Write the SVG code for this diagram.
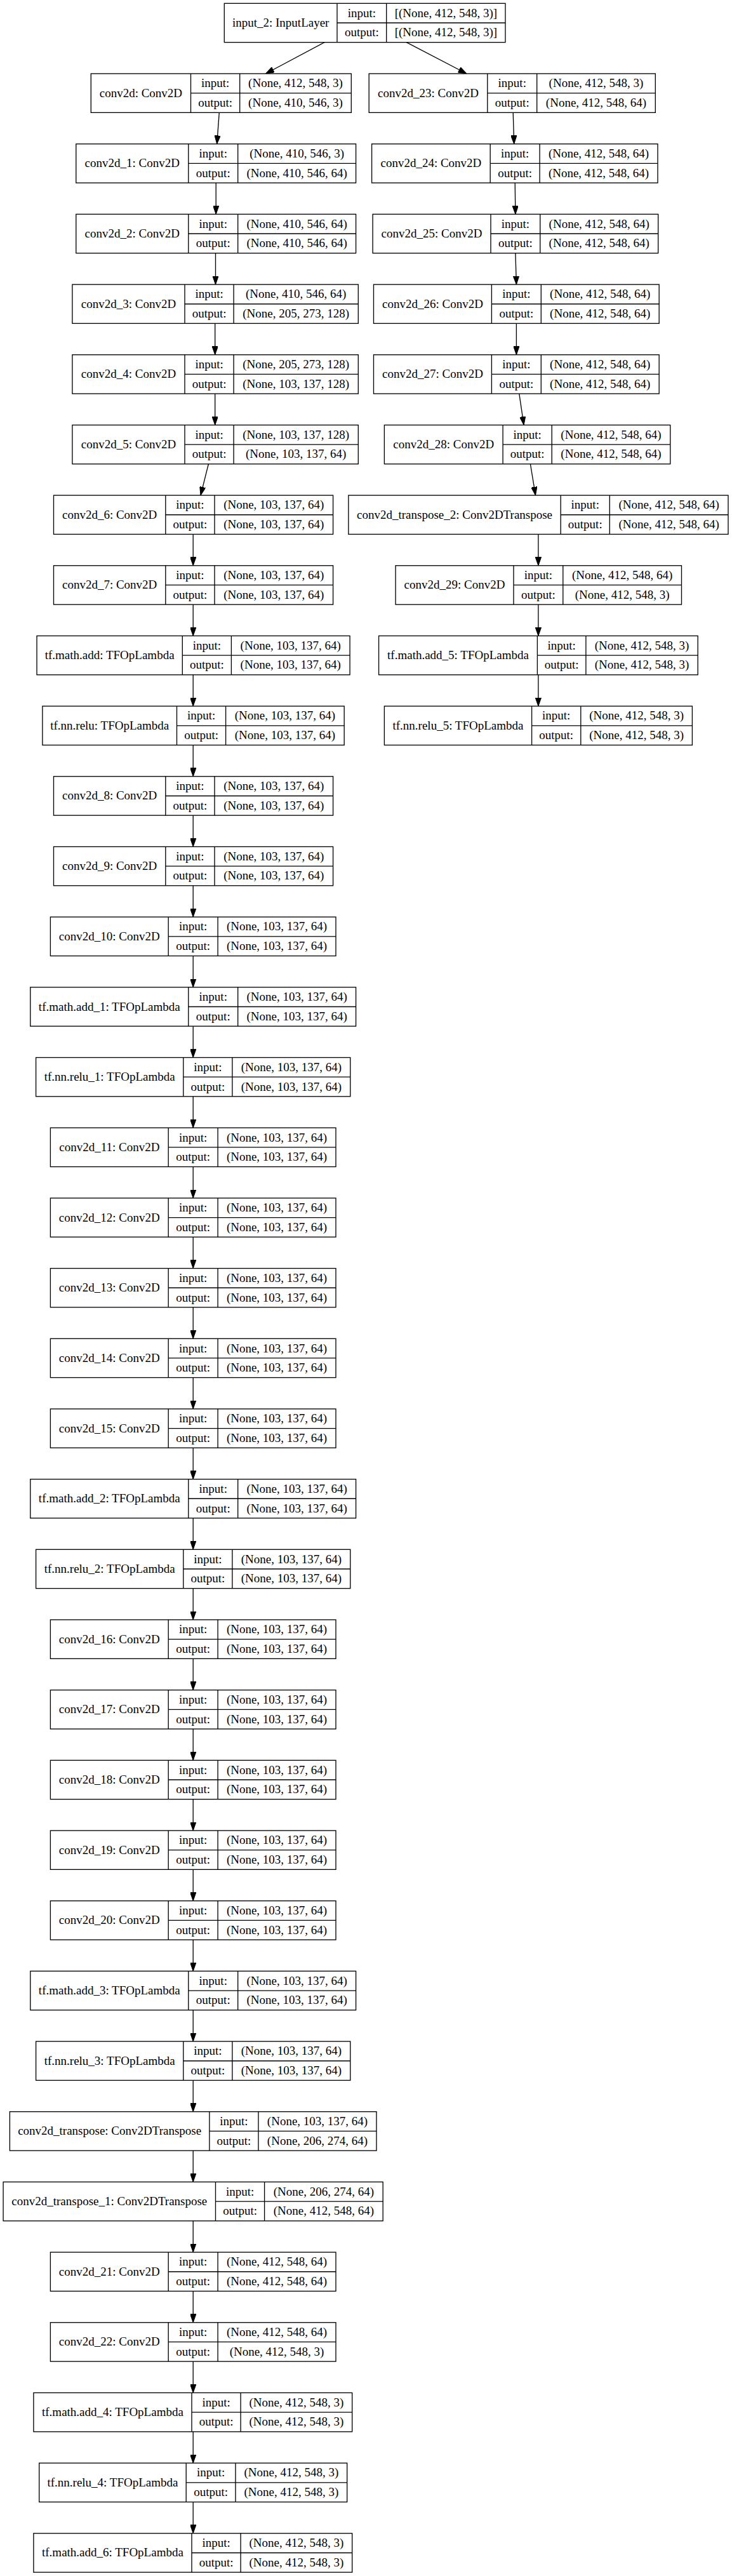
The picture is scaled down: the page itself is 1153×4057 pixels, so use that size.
<svg xmlns="http://www.w3.org/2000/svg" width="1153" height="4057" viewBox="0 0 1153 4057">
<style>
.b{fill:#fff;stroke:#000;stroke-width:1.33}
.l{stroke:#000;stroke-width:1.33;fill:none}
text{font-family:"Liberation Serif","Times New Roman",serif;font-size:19px;fill:#000;text-anchor:middle}
.e{stroke:#000;stroke-width:1.33;fill:none;marker-end:url(#ah)}
</style>
<defs>
<marker id="ah" viewBox="0 0 13.33 9.33" refX="13.33" refY="4.67" markerWidth="13.33" markerHeight="9.33" markerUnits="userSpaceOnUse" orient="auto"><path d="M0,0 L13.33,4.67 L0,9.33 Z" fill="#000" stroke="#000" stroke-width="1"/></marker>
</defs>
<rect width="1153" height="4057" fill="#fff"/>
<g id="edges">
<path class="e" d="M511.2,66.66 L418.5,116.01"/>
<path class="e" d="M640.2,66.66 L735,116.01"/>
<path class="e" d="M345.3,177.34 L341.7,226.69"/>
<path class="e" d="M808.2,177.34 L809.7,226.69"/>
<path class="e" d="M340.2,288.02 L340.2,337.37"/>
<path class="e" d="M811.2,288.02 L811.9,337.37"/>
<path class="e" d="M339.5,398.7 L339.5,448.05"/>
<path class="e" d="M811.9,398.7 L813.4,448.05"/>
<path class="e" d="M338.7,509.38 L338.7,558.73"/>
<path class="e" d="M813.4,509.38 L813.4,558.73"/>
<path class="e" d="M338.7,620.06 L338.7,669.41"/>
<path class="e" d="M817.8,620.06 L825.1,669.41"/>
<path class="e" d="M328.4,730.74 L316,780.09"/>
<path class="e" d="M835.4,730.74 L843.5,780.09"/>
<path class="e" d="M304.2,841.42 L304.2,890.77"/>
<path class="e" d="M847.9,841.42 L847.9,890.77"/>
<path class="e" d="M304.2,952.1 L304.2,1001.45"/>
<path class="e" d="M847.9,952.1 L847.9,1001.45"/>
<path class="e" d="M847.9,1062.78 L847.9,1112.13"/>
<path class="e" d="M304.2,1062.78 L304.2,1112.13"/>
<path class="e" d="M304.2,1173.46 L304.2,1222.81"/>
<path class="e" d="M304.2,1284.14 L304.2,1333.49"/>
<path class="e" d="M304.2,1394.82 L304.2,1444.17"/>
<path class="e" d="M304.2,1505.5 L304.2,1554.85"/>
<path class="e" d="M304.2,1616.18 L304.2,1665.53"/>
<path class="e" d="M304.2,1726.86 L304.2,1776.21"/>
<path class="e" d="M304.2,1837.54 L304.2,1886.89"/>
<path class="e" d="M304.2,1948.22 L304.2,1997.57"/>
<path class="e" d="M304.2,2058.9 L304.2,2108.25"/>
<path class="e" d="M304.2,2169.58 L304.2,2218.93"/>
<path class="e" d="M304.2,2280.26 L304.2,2329.61"/>
<path class="e" d="M304.2,2390.94 L304.2,2440.29"/>
<path class="e" d="M304.2,2501.62 L304.2,2550.97"/>
<path class="e" d="M304.2,2612.3 L304.2,2661.65"/>
<path class="e" d="M304.2,2722.98 L304.2,2772.33"/>
<path class="e" d="M304.2,2833.66 L304.2,2883.01"/>
<path class="e" d="M304.2,2944.34 L304.2,2993.69"/>
<path class="e" d="M304.2,3055.02 L304.2,3104.37"/>
<path class="e" d="M304.2,3165.7 L304.2,3215.05"/>
<path class="e" d="M304.2,3276.38 L304.2,3325.73"/>
<path class="e" d="M304.2,3387.06 L304.2,3436.41"/>
<path class="e" d="M304.2,3497.74 L304.2,3547.09"/>
<path class="e" d="M304.2,3608.42 L304.2,3657.77"/>
<path class="e" d="M304.2,3719.1 L304.2,3768.45"/>
<path class="e" d="M304.2,3829.78 L304.2,3879.13"/>
<path class="e" d="M304.2,3940.46 L304.2,3989.81"/>
</g>
<g id="input_2" transform="translate(0,5.33)"><rect class="b" x="353.3" y="0" width="442.7" height="61.33"/><path class="l" d="M531,0V61.33M608.7,0V61.33M531,30.67H796"/><text x="442.2" y="36.67">input_2: InputLayer</text><text x="569.9" y="21.33">input:</text><text x="702.4" y="21.33">[(None, 412, 548, 3)]</text><text x="569.9" y="52">output:</text><text x="702.4" y="52">[(None, 412, 548, 3)]</text></g>
<g id="conv2d" transform="translate(0,116.01)"><rect class="b" x="143.3" y="0" width="410" height="61.33"/><path class="l" d="M300.5,0V61.33M377.7,0V61.33M300.5,30.67H553.3"/><text x="221.9" y="36.67">conv2d: Conv2D</text><text x="339.1" y="21.33">input:</text><text x="465.5" y="21.33">(None, 412, 548, 3)</text><text x="339.1" y="52">output:</text><text x="465.5" y="52">(None, 410, 546, 3)</text></g>
<g id="conv2d_1" transform="translate(0,226.69)"><rect class="b" x="119.8" y="0" width="440.8" height="61.33"/><path class="l" d="M296.8,0V61.33M374.7,0V61.33M296.8,30.67H560.6"/><text x="208.3" y="36.67">conv2d_1: Conv2D</text><text x="335.75" y="21.33">input:</text><text x="467.65" y="21.33">(None, 410, 546, 3)</text><text x="335.75" y="52">output:</text><text x="467.65" y="52">(None, 410, 546, 64)</text></g>
<g id="conv2d_2" transform="translate(0,337.37)"><rect class="b" x="119.8" y="0" width="440.8" height="61.33"/><path class="l" d="M296.8,0V61.33M374.7,0V61.33M296.8,30.67H560.6"/><text x="208.3" y="36.67">conv2d_2: Conv2D</text><text x="335.75" y="21.33">input:</text><text x="467.65" y="21.33">(None, 410, 546, 64)</text><text x="335.75" y="52">output:</text><text x="467.65" y="52">(None, 410, 546, 64)</text></g>
<g id="conv2d_3" transform="translate(0,448.05)"><rect class="b" x="113.9" y="0" width="450.4" height="61.33"/><path class="l" d="M291,0V61.33M368.1,0V61.33M291,30.67H564.3"/><text x="202.45" y="36.67">conv2d_3: Conv2D</text><text x="329.55" y="21.33">input:</text><text x="466.2" y="21.33">(None, 410, 546, 64)</text><text x="329.55" y="52">output:</text><text x="466.2" y="52">(None, 205, 273, 128)</text></g>
<g id="conv2d_4" transform="translate(0,558.73)"><rect class="b" x="113.9" y="0" width="450.4" height="61.33"/><path class="l" d="M291,0V61.33M368.1,0V61.33M291,30.67H564.3"/><text x="202.45" y="36.67">conv2d_4: Conv2D</text><text x="329.55" y="21.33">input:</text><text x="466.2" y="21.33">(None, 205, 273, 128)</text><text x="329.55" y="52">output:</text><text x="466.2" y="52">(None, 103, 137, 128)</text></g>
<g id="conv2d_5" transform="translate(0,669.41)"><rect class="b" x="113.9" y="0" width="450.4" height="61.33"/><path class="l" d="M291,0V61.33M368.1,0V61.33M291,30.67H564.3"/><text x="202.45" y="36.67">conv2d_5: Conv2D</text><text x="329.55" y="21.33">input:</text><text x="466.2" y="21.33">(None, 103, 137, 128)</text><text x="329.55" y="52">output:</text><text x="466.2" y="52">(None, 103, 137, 64)</text></g>
<g id="conv2d_6" transform="translate(0,780.09)"><rect class="b" x="84.5" y="0" width="440.1" height="61.33"/><path class="l" d="M260.8,0V61.33M338,0V61.33M260.8,30.67H524.6"/><text x="172.65" y="36.67">conv2d_6: Conv2D</text><text x="299.4" y="21.33">input:</text><text x="431.3" y="21.33">(None, 103, 137, 64)</text><text x="299.4" y="52">output:</text><text x="431.3" y="52">(None, 103, 137, 64)</text></g>
<g id="conv2d_7" transform="translate(0,890.77)"><rect class="b" x="84.5" y="0" width="440.1" height="61.33"/><path class="l" d="M260.8,0V61.33M338,0V61.33M260.8,30.67H524.6"/><text x="172.65" y="36.67">conv2d_7: Conv2D</text><text x="299.4" y="21.33">input:</text><text x="431.3" y="21.33">(None, 103, 137, 64)</text><text x="299.4" y="52">output:</text><text x="431.3" y="52">(None, 103, 137, 64)</text></g>
<g id="tf.math.add" transform="translate(0,1001.45)"><rect class="b" x="58" y="0" width="493.1" height="61.33"/><path class="l" d="M287.3,0V61.33M364.4,0V61.33M287.3,30.67H551.1"/><text x="172.65" y="36.67">tf.math.add: TFOpLambda</text><text x="325.85" y="21.33">input:</text><text x="457.75" y="21.33">(None, 103, 137, 64)</text><text x="325.85" y="52">output:</text><text x="457.75" y="52">(None, 103, 137, 64)</text></g>
<g id="tf.nn.relu" transform="translate(0,1112.13)"><rect class="b" x="66.9" y="0" width="475.3" height="61.33"/><path class="l" d="M278.5,0V61.33M355.6,0V61.33M278.5,30.67H542.2"/><text x="172.7" y="36.67">tf.nn.relu: TFOpLambda</text><text x="317.05" y="21.33">input:</text><text x="448.9" y="21.33">(None, 103, 137, 64)</text><text x="317.05" y="52">output:</text><text x="448.9" y="52">(None, 103, 137, 64)</text></g>
<g id="conv2d_8" transform="translate(0,1222.81)"><rect class="b" x="84.5" y="0" width="440.1" height="61.33"/><path class="l" d="M260.8,0V61.33M338,0V61.33M260.8,30.67H524.6"/><text x="172.65" y="36.67">conv2d_8: Conv2D</text><text x="299.4" y="21.33">input:</text><text x="431.3" y="21.33">(None, 103, 137, 64)</text><text x="299.4" y="52">output:</text><text x="431.3" y="52">(None, 103, 137, 64)</text></g>
<g id="conv2d_9" transform="translate(0,1333.49)"><rect class="b" x="84.5" y="0" width="440.1" height="61.33"/><path class="l" d="M260.8,0V61.33M338,0V61.33M260.8,30.67H524.6"/><text x="172.65" y="36.67">conv2d_9: Conv2D</text><text x="299.4" y="21.33">input:</text><text x="431.3" y="21.33">(None, 103, 137, 64)</text><text x="299.4" y="52">output:</text><text x="431.3" y="52">(None, 103, 137, 64)</text></g>
<g id="conv2d_10" transform="translate(0,1444.17)"><rect class="b" x="79.4" y="0" width="449.6" height="61.33"/><path class="l" d="M265.2,0V61.33M343.1,0V61.33M265.2,30.67H529"/><text x="172.3" y="36.67">conv2d_10: Conv2D</text><text x="304.15" y="21.33">input:</text><text x="436.05" y="21.33">(None, 103, 137, 64)</text><text x="304.15" y="52">output:</text><text x="436.05" y="52">(None, 103, 137, 64)</text></g>
<g id="tf.math.add_1" transform="translate(0,1554.85)"><rect class="b" x="47.8" y="0" width="512.8" height="61.33"/><path class="l" d="M296.8,0V61.33M374.7,0V61.33M296.8,30.67H560.6"/><text x="172.3" y="36.67">tf.math.add_1: TFOpLambda</text><text x="335.75" y="21.33">input:</text><text x="467.65" y="21.33">(None, 103, 137, 64)</text><text x="335.75" y="52">output:</text><text x="467.65" y="52">(None, 103, 137, 64)</text></g>
<g id="tf.nn.relu_1" transform="translate(0,1665.53)"><rect class="b" x="56.6" y="0" width="495.2" height="61.33"/><path class="l" d="M288.8,0V61.33M365.9,0V61.33M288.8,30.67H551.8"/><text x="172.7" y="36.67">tf.nn.relu_1: TFOpLambda</text><text x="327.35" y="21.33">input:</text><text x="458.85" y="21.33">(None, 103, 137, 64)</text><text x="327.35" y="52">output:</text><text x="458.85" y="52">(None, 103, 137, 64)</text></g>
<g id="conv2d_11" transform="translate(0,1776.21)"><rect class="b" x="79.4" y="0" width="449.6" height="61.33"/><path class="l" d="M265.2,0V61.33M343.1,0V61.33M265.2,30.67H529"/><text x="172.3" y="36.67">conv2d_11: Conv2D</text><text x="304.15" y="21.33">input:</text><text x="436.05" y="21.33">(None, 103, 137, 64)</text><text x="304.15" y="52">output:</text><text x="436.05" y="52">(None, 103, 137, 64)</text></g>
<g id="conv2d_12" transform="translate(0,1886.89)"><rect class="b" x="79.4" y="0" width="449.6" height="61.33"/><path class="l" d="M265.2,0V61.33M343.1,0V61.33M265.2,30.67H529"/><text x="172.3" y="36.67">conv2d_12: Conv2D</text><text x="304.15" y="21.33">input:</text><text x="436.05" y="21.33">(None, 103, 137, 64)</text><text x="304.15" y="52">output:</text><text x="436.05" y="52">(None, 103, 137, 64)</text></g>
<g id="conv2d_13" transform="translate(0,1997.57)"><rect class="b" x="79.4" y="0" width="449.6" height="61.33"/><path class="l" d="M265.2,0V61.33M343.1,0V61.33M265.2,30.67H529"/><text x="172.3" y="36.67">conv2d_13: Conv2D</text><text x="304.15" y="21.33">input:</text><text x="436.05" y="21.33">(None, 103, 137, 64)</text><text x="304.15" y="52">output:</text><text x="436.05" y="52">(None, 103, 137, 64)</text></g>
<g id="conv2d_14" transform="translate(0,2108.25)"><rect class="b" x="79.4" y="0" width="449.6" height="61.33"/><path class="l" d="M265.2,0V61.33M343.1,0V61.33M265.2,30.67H529"/><text x="172.3" y="36.67">conv2d_14: Conv2D</text><text x="304.15" y="21.33">input:</text><text x="436.05" y="21.33">(None, 103, 137, 64)</text><text x="304.15" y="52">output:</text><text x="436.05" y="52">(None, 103, 137, 64)</text></g>
<g id="conv2d_15" transform="translate(0,2218.93)"><rect class="b" x="79.4" y="0" width="449.6" height="61.33"/><path class="l" d="M265.2,0V61.33M343.1,0V61.33M265.2,30.67H529"/><text x="172.3" y="36.67">conv2d_15: Conv2D</text><text x="304.15" y="21.33">input:</text><text x="436.05" y="21.33">(None, 103, 137, 64)</text><text x="304.15" y="52">output:</text><text x="436.05" y="52">(None, 103, 137, 64)</text></g>
<g id="tf.math.add_2" transform="translate(0,2329.61)"><rect class="b" x="47.8" y="0" width="512.8" height="61.33"/><path class="l" d="M296.8,0V61.33M374.7,0V61.33M296.8,30.67H560.6"/><text x="172.3" y="36.67">tf.math.add_2: TFOpLambda</text><text x="335.75" y="21.33">input:</text><text x="467.65" y="21.33">(None, 103, 137, 64)</text><text x="335.75" y="52">output:</text><text x="467.65" y="52">(None, 103, 137, 64)</text></g>
<g id="tf.nn.relu_2" transform="translate(0,2440.29)"><rect class="b" x="56.6" y="0" width="495.2" height="61.33"/><path class="l" d="M288.8,0V61.33M365.9,0V61.33M288.8,30.67H551.8"/><text x="172.7" y="36.67">tf.nn.relu_2: TFOpLambda</text><text x="327.35" y="21.33">input:</text><text x="458.85" y="21.33">(None, 103, 137, 64)</text><text x="327.35" y="52">output:</text><text x="458.85" y="52">(None, 103, 137, 64)</text></g>
<g id="conv2d_16" transform="translate(0,2550.97)"><rect class="b" x="79.4" y="0" width="449.6" height="61.33"/><path class="l" d="M265.2,0V61.33M343.1,0V61.33M265.2,30.67H529"/><text x="172.3" y="36.67">conv2d_16: Conv2D</text><text x="304.15" y="21.33">input:</text><text x="436.05" y="21.33">(None, 103, 137, 64)</text><text x="304.15" y="52">output:</text><text x="436.05" y="52">(None, 103, 137, 64)</text></g>
<g id="conv2d_17" transform="translate(0,2661.65)"><rect class="b" x="79.4" y="0" width="449.6" height="61.33"/><path class="l" d="M265.2,0V61.33M343.1,0V61.33M265.2,30.67H529"/><text x="172.3" y="36.67">conv2d_17: Conv2D</text><text x="304.15" y="21.33">input:</text><text x="436.05" y="21.33">(None, 103, 137, 64)</text><text x="304.15" y="52">output:</text><text x="436.05" y="52">(None, 103, 137, 64)</text></g>
<g id="conv2d_18" transform="translate(0,2772.33)"><rect class="b" x="79.4" y="0" width="449.6" height="61.33"/><path class="l" d="M265.2,0V61.33M343.1,0V61.33M265.2,30.67H529"/><text x="172.3" y="36.67">conv2d_18: Conv2D</text><text x="304.15" y="21.33">input:</text><text x="436.05" y="21.33">(None, 103, 137, 64)</text><text x="304.15" y="52">output:</text><text x="436.05" y="52">(None, 103, 137, 64)</text></g>
<g id="conv2d_19" transform="translate(0,2883.01)"><rect class="b" x="79.4" y="0" width="449.6" height="61.33"/><path class="l" d="M265.2,0V61.33M343.1,0V61.33M265.2,30.67H529"/><text x="172.3" y="36.67">conv2d_19: Conv2D</text><text x="304.15" y="21.33">input:</text><text x="436.05" y="21.33">(None, 103, 137, 64)</text><text x="304.15" y="52">output:</text><text x="436.05" y="52">(None, 103, 137, 64)</text></g>
<g id="conv2d_20" transform="translate(0,2993.69)"><rect class="b" x="79.4" y="0" width="449.6" height="61.33"/><path class="l" d="M265.2,0V61.33M343.1,0V61.33M265.2,30.67H529"/><text x="172.3" y="36.67">conv2d_20: Conv2D</text><text x="304.15" y="21.33">input:</text><text x="436.05" y="21.33">(None, 103, 137, 64)</text><text x="304.15" y="52">output:</text><text x="436.05" y="52">(None, 103, 137, 64)</text></g>
<g id="tf.math.add_3" transform="translate(0,3104.37)"><rect class="b" x="47.8" y="0" width="512.8" height="61.33"/><path class="l" d="M296.8,0V61.33M374.7,0V61.33M296.8,30.67H560.6"/><text x="172.3" y="36.67">tf.math.add_3: TFOpLambda</text><text x="335.75" y="21.33">input:</text><text x="467.65" y="21.33">(None, 103, 137, 64)</text><text x="335.75" y="52">output:</text><text x="467.65" y="52">(None, 103, 137, 64)</text></g>
<g id="tf.nn.relu_3" transform="translate(0,3215.05)"><rect class="b" x="56.6" y="0" width="495.2" height="61.33"/><path class="l" d="M288.8,0V61.33M365.9,0V61.33M288.8,30.67H551.8"/><text x="172.7" y="36.67">tf.nn.relu_3: TFOpLambda</text><text x="327.35" y="21.33">input:</text><text x="458.85" y="21.33">(None, 103, 137, 64)</text><text x="327.35" y="52">output:</text><text x="458.85" y="52">(None, 103, 137, 64)</text></g>
<g id="conv2d_transpose" transform="translate(0,3325.73)"><rect class="b" x="15.4" y="0" width="577.6" height="61.33"/><path class="l" d="M329.9,0V61.33M407,0V61.33M329.9,30.67H593"/><text x="172.65" y="36.67">conv2d_transpose: Conv2DTranspose</text><text x="368.45" y="21.33">input:</text><text x="500" y="21.33">(None, 103, 137, 64)</text><text x="368.45" y="52">output:</text><text x="500" y="52">(None, 206, 274, 64)</text></g>
<g id="conv2d_transpose_1" transform="translate(0,3436.41)"><rect class="b" x="5.1" y="0" width="598.1" height="61.33"/><path class="l" d="M339.5,0V61.33M416.6,0V61.33M339.5,30.67H603.2"/><text x="172.3" y="36.67">conv2d_transpose_1: Conv2DTranspose</text><text x="378.05" y="21.33">input:</text><text x="509.9" y="21.33">(None, 206, 274, 64)</text><text x="378.05" y="52">output:</text><text x="509.9" y="52">(None, 412, 548, 64)</text></g>
<g id="conv2d_21" transform="translate(0,3547.09)"><rect class="b" x="79.4" y="0" width="449.6" height="61.33"/><path class="l" d="M265.2,0V61.33M343.1,0V61.33M265.2,30.67H529"/><text x="172.3" y="36.67">conv2d_21: Conv2D</text><text x="304.15" y="21.33">input:</text><text x="436.05" y="21.33">(None, 412, 548, 64)</text><text x="304.15" y="52">output:</text><text x="436.05" y="52">(None, 412, 548, 64)</text></g>
<g id="conv2d_22" transform="translate(0,3657.77)"><rect class="b" x="79.4" y="0" width="449.6" height="61.33"/><path class="l" d="M265.2,0V61.33M343.1,0V61.33M265.2,30.67H529"/><text x="172.3" y="36.67">conv2d_22: Conv2D</text><text x="304.15" y="21.33">input:</text><text x="436.05" y="21.33">(None, 412, 548, 64)</text><text x="304.15" y="52">output:</text><text x="436.05" y="52">(None, 412, 548, 3)</text></g>
<g id="tf.math.add_4" transform="translate(0,3768.45)"><rect class="b" x="52.9" y="0" width="501.8" height="61.33"/><path class="l" d="M302,0V61.33M379.1,0V61.33M302,30.67H554.7"/><text x="177.45" y="36.67">tf.math.add_4: TFOpLambda</text><text x="340.55" y="21.33">input:</text><text x="466.9" y="21.33">(None, 412, 548, 3)</text><text x="340.55" y="52">output:</text><text x="466.9" y="52">(None, 412, 548, 3)</text></g>
<g id="tf.nn.relu_4" transform="translate(0,3879.13)"><rect class="b" x="61.7" y="0" width="485" height="61.33"/><path class="l" d="M293.2,0V61.33M371,0V61.33M293.2,30.67H546.7"/><text x="177.45" y="36.67">tf.nn.relu_4: TFOpLambda</text><text x="332.1" y="21.33">input:</text><text x="458.85" y="21.33">(None, 412, 548, 3)</text><text x="332.1" y="52">output:</text><text x="458.85" y="52">(None, 412, 548, 3)</text></g>
<g id="tf.math.add_6" transform="translate(0,3989.81)"><rect class="b" x="52.9" y="0" width="501.8" height="61.33"/><path class="l" d="M302,0V61.33M379.1,0V61.33M302,30.67H554.7"/><text x="177.45" y="36.67">tf.math.add_6: TFOpLambda</text><text x="340.55" y="21.33">input:</text><text x="466.9" y="21.33">(None, 412, 548, 3)</text><text x="340.55" y="52">output:</text><text x="466.9" y="52">(None, 412, 548, 3)</text></g>
<g id="conv2d_23" transform="translate(0,116.01)"><rect class="b" x="581.2" y="0" width="451.1" height="61.33"/><path class="l" d="M767.8,0V61.33M845.7,0V61.33M767.8,30.67H1032.3"/><text x="674.5" y="36.67">conv2d_23: Conv2D</text><text x="806.75" y="21.33">input:</text><text x="939" y="21.33">(None, 412, 548, 3)</text><text x="806.75" y="52">output:</text><text x="939" y="52">(None, 412, 548, 64)</text></g>
<g id="conv2d_24" transform="translate(0,226.69)"><rect class="b" x="585.6" y="0" width="450.4" height="61.33"/><path class="l" d="M772.2,0V61.33M850.1,0V61.33M772.2,30.67H1036"/><text x="678.9" y="36.67">conv2d_24: Conv2D</text><text x="811.15" y="21.33">input:</text><text x="943.05" y="21.33">(None, 412, 548, 64)</text><text x="811.15" y="52">output:</text><text x="943.05" y="52">(None, 412, 548, 64)</text></g>
<g id="conv2d_25" transform="translate(0,337.37)"><rect class="b" x="587.1" y="0" width="449.6" height="61.33"/><path class="l" d="M773,0V61.33M850.8,0V61.33M773,30.67H1036.7"/><text x="680.05" y="36.67">conv2d_25: Conv2D</text><text x="811.9" y="21.33">input:</text><text x="943.75" y="21.33">(None, 412, 548, 64)</text><text x="811.9" y="52">output:</text><text x="943.75" y="52">(None, 412, 548, 64)</text></g>
<g id="conv2d_26" transform="translate(0,448.05)"><rect class="b" x="588.5" y="0" width="449.7" height="61.33"/><path class="l" d="M774.4,0V61.33M852.3,0V61.33M774.4,30.67H1038.2"/><text x="681.45" y="36.67">conv2d_26: Conv2D</text><text x="813.35" y="21.33">input:</text><text x="945.25" y="21.33">(None, 412, 548, 64)</text><text x="813.35" y="52">output:</text><text x="945.25" y="52">(None, 412, 548, 64)</text></g>
<g id="conv2d_27" transform="translate(0,558.73)"><rect class="b" x="588.5" y="0" width="449.7" height="61.33"/><path class="l" d="M774.4,0V61.33M852.3,0V61.33M774.4,30.67H1038.2"/><text x="681.45" y="36.67">conv2d_27: Conv2D</text><text x="813.35" y="21.33">input:</text><text x="945.25" y="21.33">(None, 412, 548, 64)</text><text x="813.35" y="52">output:</text><text x="945.25" y="52">(None, 412, 548, 64)</text></g>
<g id="conv2d_28" transform="translate(0,669.41)"><rect class="b" x="605.4" y="0" width="450.4" height="61.33"/><path class="l" d="M792.1,0V61.33M869.2,0V61.33M792.1,30.67H1055.8"/><text x="698.75" y="36.67">conv2d_28: Conv2D</text><text x="830.65" y="21.33">input:</text><text x="962.5" y="21.33">(None, 412, 548, 64)</text><text x="830.65" y="52">output:</text><text x="962.5" y="52">(None, 412, 548, 64)</text></g>
<g id="conv2d_transpose_2" transform="translate(0,780.09)"><rect class="b" x="548.9" y="0" width="598.1" height="61.33"/><path class="l" d="M883.2,0V61.33M960.3,0V61.33M883.2,30.67H1147"/><text x="716.05" y="36.67">conv2d_transpose_2: Conv2DTranspose</text><text x="921.75" y="21.33">input:</text><text x="1053.65" y="21.33">(None, 412, 548, 64)</text><text x="921.75" y="52">output:</text><text x="1053.65" y="52">(None, 412, 548, 64)</text></g>
<g id="conv2d_29" transform="translate(0,890.77)"><rect class="b" x="623.1" y="0" width="450.4" height="61.33"/><path class="l" d="M809,0V61.33M886.8,0V61.33M809,30.67H1073.5"/><text x="716.05" y="36.67">conv2d_29: Conv2D</text><text x="847.9" y="21.33">input:</text><text x="980.15" y="21.33">(None, 412, 548, 64)</text><text x="847.9" y="52">output:</text><text x="980.15" y="52">(None, 412, 548, 3)</text></g>
<g id="tf.math.add_5" transform="translate(0,1001.45)"><rect class="b" x="596.6" y="0" width="502.6" height="61.33"/><path class="l" d="M846.4,0V61.33M922.9,0V61.33M846.4,30.67H1099.2"/><text x="721.5" y="36.67">tf.math.add_5: TFOpLambda</text><text x="884.65" y="21.33">input:</text><text x="1011.05" y="21.33">(None, 412, 548, 3)</text><text x="884.65" y="52">output:</text><text x="1011.05" y="52">(None, 412, 548, 3)</text></g>
<g id="tf.nn.relu_5" transform="translate(0,1112.13)"><rect class="b" x="605.4" y="0" width="485" height="61.33"/><path class="l" d="M837.6,0V61.33M914.8,0V61.33M837.6,30.67H1090.4"/><text x="721.5" y="36.67">tf.nn.relu_5: TFOpLambda</text><text x="876.2" y="21.33">input:</text><text x="1002.6" y="21.33">(None, 412, 548, 3)</text><text x="876.2" y="52">output:</text><text x="1002.6" y="52">(None, 412, 548, 3)</text></g>
</svg>
